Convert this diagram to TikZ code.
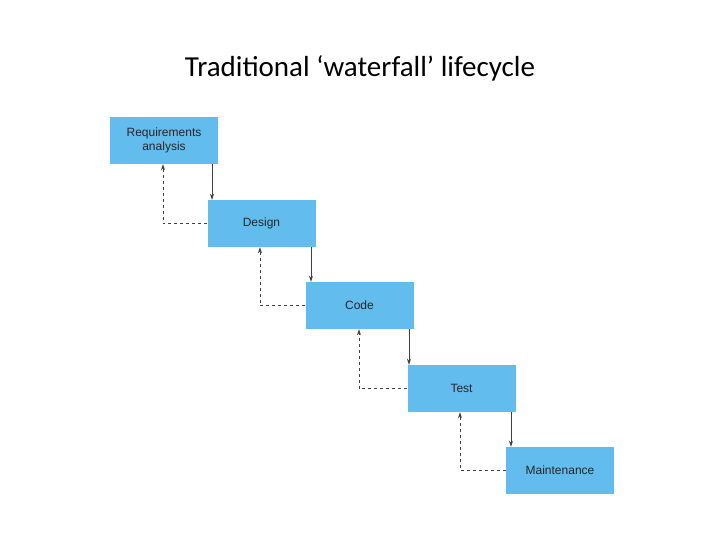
\documentclass[tikz,border=0pt]{standalone}
\usepackage{fontspec}
\setmainfont{Carlito}
\newfontfamily\boxfont{Liberation Sans}
\usetikzlibrary{arrows.meta}
\definecolor{boxblue}{HTML}{63BCEE}
\definecolor{linegray}{HTML}{404040}
\tikzset{
  stage/.style={fill=boxblue,draw=none,minimum width=108pt,minimum height=47pt,inner sep=0pt,font=\boxfont\fontsize{12}{14}\selectfont,align=center,text=black!85},
  fwd/.style={draw=linegray,line width=1pt,-{Stealth[length=6pt,width=4pt]}},
  back/.style={draw=linegray,line width=1pt,dashed,-{Stealth[length=6pt,width=4pt]}}
}
\begin{document}
\begin{tikzpicture}[x=1pt,y=-1pt]
\useasboundingbox (0,0) rectangle (720,540);
\node (title) at (360,68) {\fontsize{29}{34}\selectfont Traditional ‘waterfall’ lifecycle};
\node[stage] (r) at (164,140.5) {Requirements\\analysis};
\node[stage] (d) at (261.5,223.5) {Design};
\node[stage] (c) at (359.5,305.5) {Code};
\node[stage] (t) at (461.5,388.5) {Test};
\node[stage] (m) at (560,470.5) {Maintenance};
\foreach \a/\b/\xs/\xb in {r/d/212/163, d/c/311/260, c/t/409/359, t/m/511/460}{
  \draw[fwd] (\a.south -| \xs,0) -- (\b.north -| \xs,0);
  \draw[back] (\b.west) -- (\b.west -| \xb,0) -- (\a.south -| \xb,0);
}
\end{tikzpicture}
\end{document}
